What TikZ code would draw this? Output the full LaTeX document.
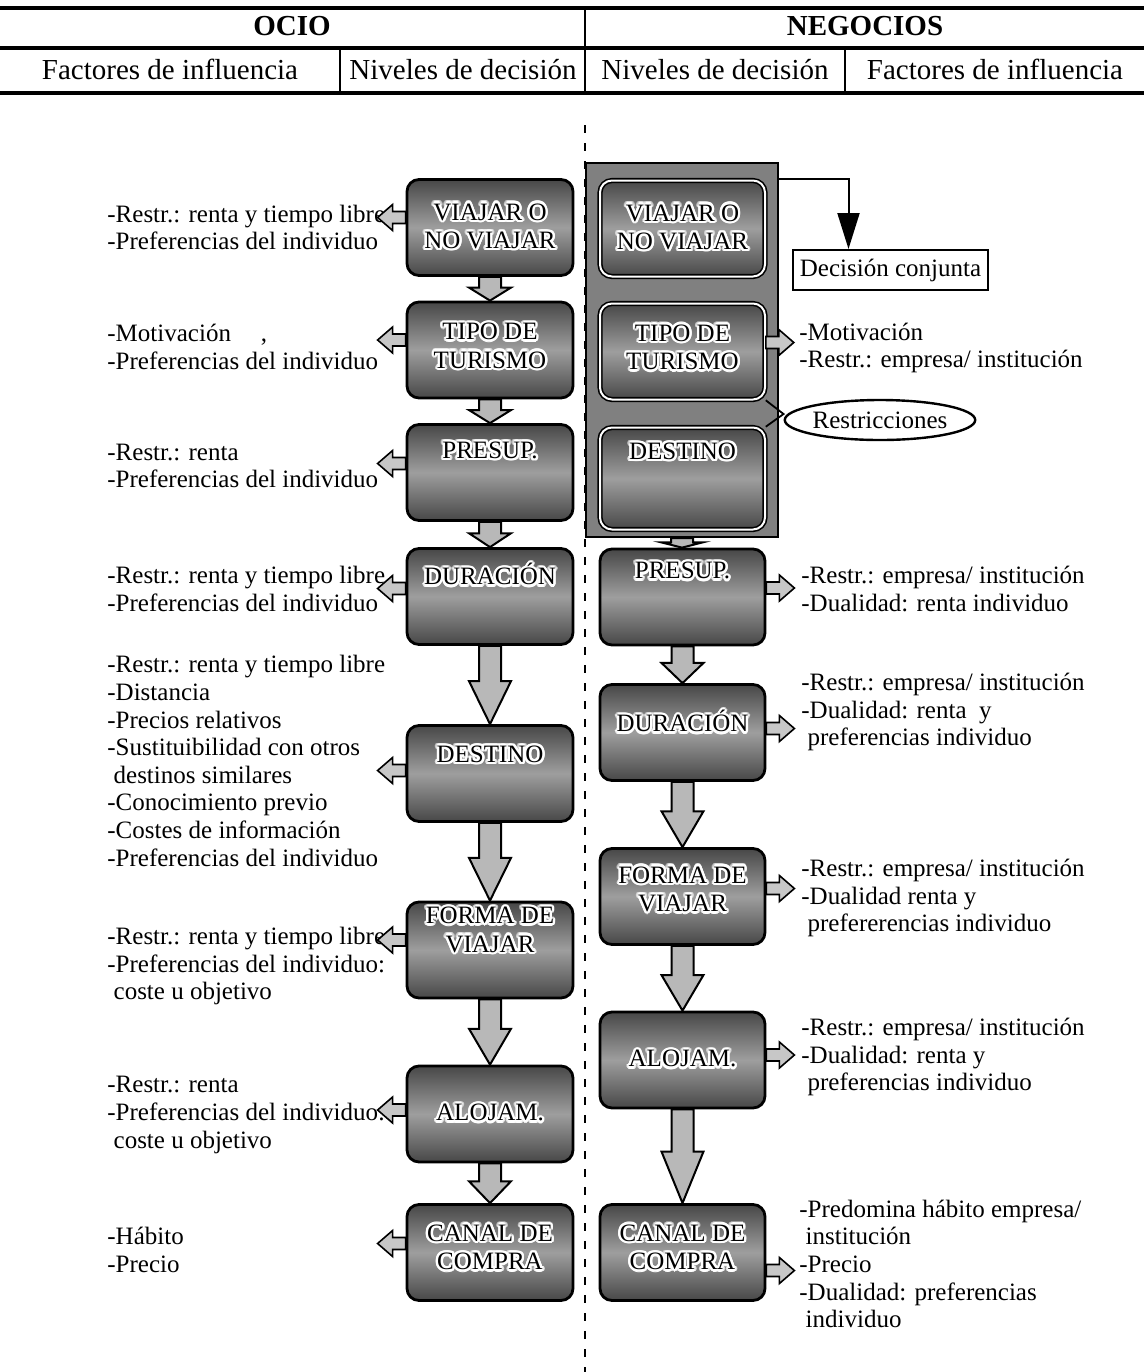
\documentclass[tikz,border=0pt]{standalone}
\usepackage{fontspec}
\setmainfont{Liberation Serif}
\usepackage{contour}
\contourlength{1.2pt}
\contournumber{16}
\usetikzlibrary{arrows.meta, positioning, calc, shapes.geometric}

\newcommand\ct[1]{\contour{white}{#1}}
% block arrow from one level down to the next
\newcommand\downarr[2]{%
  \draw[blockarr] let \p1=(#1.south), \p2=(#2.north),
    \p3=($(#2.north)!0.55!(#1.south)$) in
    (\x1-5.5pt,\y1) -- (\x1+5.5pt,\y1) -- (\x1+5.5pt,\y3) -- (\x1+10.5pt,\y3)
    -- (\x1,\y2) -- (\x1-10.5pt,\y3) -- (\x1-5.5pt,\y3) -- cycle;}
% small arrows towards the factors
\newcommand\leftarr[2]{%
  \draw[sidearr] ($(#1.west)+(0,#2)$) ++(0,-6) -- ++(-13,0) -- ++(0,-7)
    -- ++(-15,13) -- ++(15,13) -- ++(0,-7) -- ++(13,0) -- cycle;}
\newcommand\rightarr[2]{%
  \draw[sidearr] ($(#1.east)+(0,#2)$) ++(0,-6) -- ++(13,0) -- ++(0,-7)
    -- ++(15,13) -- ++(-15,13) -- ++(0,-7) -- ++(-13,0) -- cycle;}

\begin{document}
\begin{tikzpicture}[
  x=0.5pt, y=-0.5pt,
  txt/.style={font=\fontsize{12.5}{13.8}\selectfont},
  head/.style={font=\fontsize{14.5}{16}\selectfont, inner sep=0pt,
               text height=10pt, text depth=3pt},
  lvl/.style={draw, line width=1.4pt, rounded corners=6pt, minimum width=83pt,
              minimum height=48pt, top color=black!72, bottom color=black!72,
              middle color=black!38, inner sep=0pt},
  nlvl/.style={lvl, minimum width=82.5pt, line width=0.8pt, double=white,
               double distance=1pt},
  boxtxt/.style={align=center, inner sep=0pt, font=\fontsize{12.5}{14.2}\selectfont},
  panelbox/.style={draw, line width=1pt, fill=black!50, minimum width=96pt,
                   minimum height=187pt},
  factor/.style={anchor=west, align=left, inner sep=0pt, txt},
  blockarr/.style={draw, line width=1pt, fill=black!28, line join=miter},
  sidearr/.style={draw, line width=0.8pt, fill=black!22, line join=miter},
  decarr/.style={line width=1pt, -{Triangle[length=18pt,width=11pt]}},
  rule/.style={line width=1.6pt},
  cutline/.style={dash pattern=on 4pt off 5pt, line width=0.6pt},
]
\useasboundingbox (0,0) rectangle (1144,1372);

% --- header table ---
\draw[rule] (0,8) -- (1144,8);
\draw[rule, line width=2pt] (0,48) -- (1144,48);
\draw[rule, line width=2pt] (0,93) -- (1144,93);
\draw[line width=1pt] (585,8) -- (585,93);
\draw[line width=1pt] (340,48) -- (340,93);
\draw[line width=1pt] (845,48) -- (845,93);
\node[head, font=\fontsize{14.5}{16}\selectfont\bfseries] (hocio) at (292,28) {OCIO};
\node[head, font=\fontsize{14.5}{16}\selectfont\bfseries] (hneg)  at (865,28) {NEGOCIOS};
\node[head] (hfo) at (170,72) {Factores de influencia};
\node[head] (hno) at (463,72) {Niveles de decisión};
\node[head] (hnn) at (715,72) {Niveles de decisión};
\node[head] (hfn) at (995,72) {Factores de influencia};

% --- dividing line ---
\draw[cutline] (585,125) -- (585,1372);

% --- ocio: levels ---
\node[lvl, label={[boxtxt]center:{\ct{VIAJAR O}\\\ct{NO VIAJAR}}}] (l1) at (490,227.5) {};
\node[lvl, label={[boxtxt, yshift=1.5pt]center:{\ct{TIPO DE}\\\ct{TURISMO}}}] (l2) at (490,350) {};
\node[lvl, label={[boxtxt, yshift=10.5pt]center:\ct{PRESUP.}}] (l3) at (490,472.5) {};
\node[lvl, label={[boxtxt, yshift=10.5pt]center:\ct{DURACIÓN}}] (l4) at (490,596.5) {};
\node[lvl, label={[boxtxt, yshift=9pt]center:\ct{DESTINO}}] (l5) at (490,773.5) {};
\node[lvl, label={[boxtxt, yshift=9.5pt]center:{\ct{FORMA DE}\\\ct{VIAJAR}}}] (l6) at (490,950) {};
\node[lvl, label={[boxtxt]center:\ct{ALOJAM.}}] (l7) at (490,1114) {};
\node[lvl, label={[boxtxt, yshift=2pt]center:{\ct{CANAL DE}\\\ct{COMPRA}}}] (l8) at (490,1252.5) {};
\foreach \a/\b in {l1/l2, l2/l3, l3/l4, l4/l5, l5/l6, l6/l7, l7/l8}
  {\downarr{\a}{\b}}

% --- ocio: factors ---
\node[factor] (f1) at (107,227.5) {-Restr.: renta y tiempo libre\\-Preferencias del individuo};
\node[factor] (f2) at (107,347) {-Motivación\hspace{1.2em},\\-Preferencias del individuo};
\node[factor] (f3) at (107,466) {-Restr.: renta\\-Preferencias del individuo};
\node[factor] (f4) at (107,589) {-Restr.: renta y tiempo libre\\-Preferencias del individuo};
\node[factor] (f5) at (107,761) {-Restr.: renta y tiempo libre\\-Distancia\\-Precios relativos\\
  -Sustituibilidad con otros\\\ destinos similares\\-Conocimiento previo\\
  -Costes de información\\-Preferencias del individuo};
\node[factor] (f6) at (107,966) {-Restr.: renta y tiempo libre\\-Preferencias del individuo:\\\ coste u objetivo};
\node[factor] (f7) at (107,1115) {-Restr.: renta\\-Preferencias del individuo:\\\ coste u objetivo};
\node[factor] (f8) at (107,1250) {-Hábito\\-Precio};
\leftarr{l1}{-10} \leftarr{l2}{-10} \leftarr{l3}{-9} \leftarr{l4}{-8}
\leftarr{l5}{-3} \leftarr{l6}{-10} \leftarr{l7}{-4} \leftarr{l8}{-9}

% --- negocios: joint decision panel ---
\node[panelbox] (pn) at (682,350) {};
\node[nlvl, label={[boxtxt]center:{\ct{VIAJAR O}\\\ct{NO VIAJAR}}}] (r1) at (682.5,228.5) {};
\node[nlvl, label={[boxtxt, yshift=1.5pt]center:{\ct{TIPO DE}\\\ct{TURISMO}}}] (r2) at (682.5,351.5) {};
\node[nlvl, minimum height=51pt, label={[boxtxt, yshift=13pt]center:\ct{DESTINO}}] (r3) at (682.5,478.5) {};
\node[draw, line width=1pt, minimum width=97.5pt, minimum height=20pt, inner sep=0pt, txt]
  (dc) at (890.5,270) {Decisión conjunta};
\draw[decarr] ($(pn.north east)+(0,17)$) -| ($(dc.north)+(-42,0)$);
\node[ellipse, draw, line width=1.2pt, minimum width=88pt, minimum height=20pt, inner sep=0pt, txt]
  (rs) at (880,420) {Restricciones};
\draw[line width=0.9pt] (r2.south east) -- ($(rs.west)+(0,-6)$) -- (r3.north east);

% --- negocios: remaining levels ---
\node[lvl, minimum width=82.5pt, label={[boxtxt, yshift=12.5pt]center:\ct{PRESUP.}}] (r4) at (682.5,597) {};
\node[lvl, minimum width=82.5pt, label={[boxtxt, yshift=5pt]center:\ct{DURACIÓN}}] (r5) at (682.5,732.5) {};
\node[lvl, minimum width=82.5pt, label={[boxtxt, yshift=3pt]center:{\ct{FORMA DE}\\\ct{VIAJAR}}}] (r6) at (682.5,896.5) {};
\node[lvl, minimum width=82.5pt, label={[boxtxt]center:\ct{ALOJAM.}}] (r7) at (682.5,1060) {};
\node[lvl, minimum width=82.5pt, label={[boxtxt, yshift=2pt]center:{\ct{CANAL DE}\\\ct{COMPRA}}}] (r8) at (682.5,1252.5) {};
\foreach \a/\b in {pn/r4, r4/r5, r5/r6, r6/r7, r7/r8}
  {\downarr{\a}{\b}}

% --- negocios: factors ---
\node[factor] (g2) at (799,348) {-Motivación\\-Restr.: empresa/ institución};
\node[factor] (g4) at (801,589) {-Restr.: empresa/ institución\\-Dualidad: renta individuo};
\node[factor] (g5) at (801,712) {-Restr.: empresa/ institución\\-Dualidad: renta~ y\\\ preferencias individuo};
\node[factor] (g6) at (801,898) {-Restr.: empresa/ institución\\-Dualidad renta y\\\ prefererencias individuo};
\node[factor] (g7) at (801,1057) {-Restr.: empresa/ institución\\-Dualidad: renta y\\\ preferencias individuo};
\node[factor] (g8) at (799,1264) {-Predomina hábito empresa/\\\ institución\\-Precio\\
  -Dualidad: preferencias\\\ individuo};
\rightarr{r2}{-9} \rightarr{r4}{-9} \rightarr{r5}{-4}
\rightarr{r6}{-8} \rightarr{r7}{-5} \rightarr{r8}{18}
\end{tikzpicture}
\end{document}
